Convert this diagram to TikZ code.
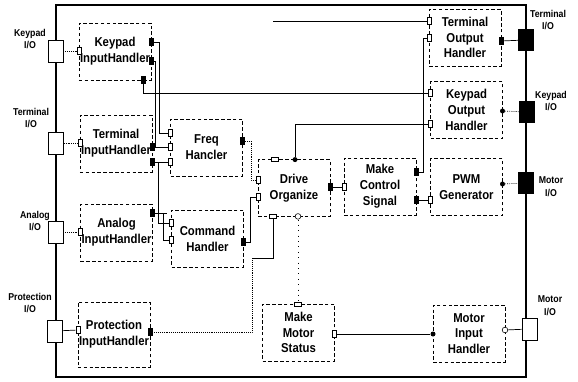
\documentclass[tikz,border=0pt]{standalone}
\usepackage{fontspec}
\setmainfont{Liberation Sans}[FakeStretch=0.88]
\usetikzlibrary{calc}

\tikzset{
  Block/.style={draw,densely dashed,line width=.5pt,minimum width=21.6mm,minimum height=17mm,
    align=center,inner sep=1pt,font=\fontsize{11}{13.5}\selectfont\bfseries},
  InPort/.style={draw,fill=white,line width=.5pt,minimum width=1.3mm,minimum height=2mm,inner sep=0pt},
  InPortH/.style={InPort,minimum width=2mm,minimum height=1.3mm},
  OutPort/.style={draw,fill=black,minimum width=1.3mm,minimum height=2.2mm,inner sep=0pt},
  Dot/.style={circle,fill=black,inner sep=0pt,minimum size=1.5mm},
  Ring/.style={circle,draw,fill=white,line width=.5pt,inner sep=0pt,minimum size=1.7mm},
  IOBox/.style={draw,fill=white,line width=.5pt,minimum width=4.5mm,minimum height=6.6mm,inner sep=0pt},
  IOBlk/.style={draw,fill=black,minimum width=4.5mm,minimum height=6.3mm,inner sep=0pt},
  IOLbl/.style={align=center,font=\fontsize{8.5}{11}\selectfont\bfseries,inner sep=0pt},
  Wire/.style={line width=.6pt},
  DWire/.style={line width=.6pt,densely dotted}
}

\begin{document}
\begin{tikzpicture}[x=0.3mm,y=-0.3mm]
\useasboundingbox (0,0) rectangle (578,381);

% outer frame
\draw[line width=1.8pt] (56,5) rectangle (526,377);

% handler blocks
\node[Block] (kih)  at (115,51.5)  {Keypad\\InputHandler};
\node[Block] (tih)  at (116,143.5) {Terminal\\InputHandler};
\node[Block] (aih)  at (116.5,232.5) {Analog\\InputHandler};
\node[Block,minimum height=19.5mm] (pih) at (114,334.5) {Protection\\InputHandler};
\node[Block] (freq) at (206.5,147.5) {Freq\\Hancler};
\node[Block] (cmd)  at (207.5,238.5) {Command\\Handler};
\node[Block] (drv)  at (294,188)   {Drive\\Organize};
\node[Block] (mcs)  at (380,186.5) {Make\\Control\\Signal};
\node[Block] (pwm)  at (466.5,187) {PWM\\Generator};
\node[Block] (toh)  at (465,37.5)  {Terminal\\Output\\Handler};
\node[Block] (koh)  at (466.5,110) {Keypad\\Output\\Handler};
\node[Block] (mms)  at (298.5,332.5) {Make\\Motor\\Status};
\node[Block] (mih)  at (469,333.5) {Motor\\Input\\Handler};

% I/O ports on the frame
\node[IOBox] (kio)  at (55.5,51)  {};
\node[IOBox] (tio)  at (56,143)   {};
\node[IOBox] (aio)  at (55.5,232) {};
\node[IOBox] (pio)  at (55,331)   {};
\node[IOBlk] (tior) at (525.5,40) {};
\node[IOBlk] (kior) at (527,112)  {};
\node[IOBlk] (mior) at (525.5,183) {};
\node[IOBox] (mio)  at (529.5,329) {};

\node[IOLbl] (kiol)  at (30,39)   {Keypad\\I/O};
\node[IOLbl] (tiol)  at (31,118)  {Terminal\\I/O};
\node[IOLbl] (aiol)  at (35,221)  {Analog\\I/O};
\node[IOLbl] (piol)  at (30,303)  {Protection\\I/O};
\node[IOLbl] (tiorl) at (548,20)  {Terminal\\I/O};
\node[IOLbl] (kiorl) at (551,101) {Keypad\\I/O};
\node[IOLbl] (miorl) at (551,187) {Motor\\I/O};
\node[IOLbl] (miol)  at (550,306) {Motor\\I/O};

% block ports
\node[InPort]  (kih-i)  at (79,51)   {};
\node[OutPort] (kih-o1) at (151,42)  {};
\node[OutPort] (kih-o2) at (151,61)  {};
\node[OutPort] (kih-o3) at (143,80)  {};
\node[InPort]  (tih-i)  at (80,143)  {};
\node[OutPort] (tih-o1) at (152,147) {};
\node[OutPort] (tih-o2) at (152,162) {};
\node[InPort]  (aih-i)  at (80.5,232) {};
\node[OutPort] (aih-o)  at (152.5,213) {};
\node[InPort]  (pih-i)  at (78,330)  {};
\node[OutPort] (pih-o)  at (150,332) {};
\node[InPort]  (freq-i1) at (170.5,133) {};
\node[InPort]  (freq-i2) at (170.5,147) {};
\node[InPort]  (freq-i3) at (170.5,162) {};
\node[OutPort] (freq-o)  at (242.5,141) {};
\node[InPort]  (cmd-i1) at (171.5,223) {};
\node[InPort]  (cmd-i2) at (171.5,240) {};
\node[OutPort] (cmd-o)  at (243.5,242) {};
\node[InPort]  (drv-i1) at (258,180) {};
\node[InPort]  (drv-i2) at (258,197) {};
\node[InPortH] (drv-t1) at (275,159.6) {};
\node[Dot]     (drv-t2) at (295,159.6) {};
\node[InPortH] (drv-b1) at (273,216.4) {};
\node[Ring]    (drv-b2) at (298,216.4) {};
\node[OutPort] (drv-o)  at (330,187) {};
\node[InPort]  (mcs-i)  at (344,187) {};
\node[OutPort] (mcs-o1) at (416,172) {};
\node[OutPort] (mcs-o2) at (416,200) {};
\node[InPort]  (pwm-i)  at (430.5,200) {};
\node[Dot]     (pwm-o)  at (502.5,184) {};
\node[InPort]  (toh-i1) at (429,21)  {};
\node[InPort]  (toh-i2) at (429,38)  {};
\node[OutPort] (toh-o)  at (501,41)  {};
\node[InPort]  (koh-i1) at (430.5,93) {};
\node[InPort]  (koh-i2) at (430.5,124) {};
\node[Dot]     (koh-o)  at (502.5,111) {};
\node[InPortH] (mms-t)  at (298,304.2) {};
\node[InPort]  (mms-o)  at (334.5,334) {};
\node[Dot]     (mih-i)  at (433,334) {};
\node[Ring]    (mih-o)  at (505,330) {};
\coordinate (tend) at (273,21);

% wiring
\draw[DWire] (kio) -- (kih-i);
\draw[DWire] (tio) -- (tih-i);
\draw[DWire] (aio) -- (aih-i);
\draw[Wire]  (pio) -- (pih-i);
\draw[Wire]  (kih-o1.east) -- ++(6,0) |- (freq-i1.west);
\draw[Wire]  (kih-o2.east) -- ++(2,0) coordinate (j1) -- (j1 |- tih-o1);
\draw[Wire]  (tih-o1.east) -- (freq-i2.west);
\draw[Wire]  (tih-o2.east) -- (freq-i3.west);
\draw[Wire]  ($(tih-o2.east)+(4,0)$) |- (cmd-i1.west);
\draw[Wire]  (aih-o.east) -- ++(8,0) coordinate (j2) |- (cmd-i2.west);
\draw[Wire]  (aih-o.east) -- ++(12,0);
\draw[Wire]  (kih-o3.south) |- (koh-i1.west);
\draw[DWire] (freq-o.east) -- ++(6,0) |- (drv-i1.west);
\draw[Wire]  (cmd-o.east) -- ++(4,0) |- (drv-i2.west);
\coordinate (j3) at (252,258);
\draw[DWire] (pih-o.east) -| (j3);
\draw[Wire]  (j3) -| (drv-b1.south);
\draw[line width=.6pt,loosely dotted] (drv-b2.south) -- (mms-t.north);
\draw[Wire]  (drv-t2.north) |- (koh-i2.west);
\draw[Wire]  (drv-o) -- (mcs-i);
\draw[Wire]  (mcs-o1.east) -- ++(5,0) |- (toh-i2.west);
\draw[Wire]  (mcs-o2) -- (pwm-i);
\draw[Wire]  (tend) -- (toh-i1.west);
\draw[Wire]  (toh-o) -- (tior);
\draw[DWire] (koh-o) -- (kior);
\draw[DWire] (pwm-o) -- (mior);
\draw[Wire]  (mms-o) -- (mih-i);
\draw[Wire]  (mih-o) -- (mio);

\end{tikzpicture}
\end{document}
